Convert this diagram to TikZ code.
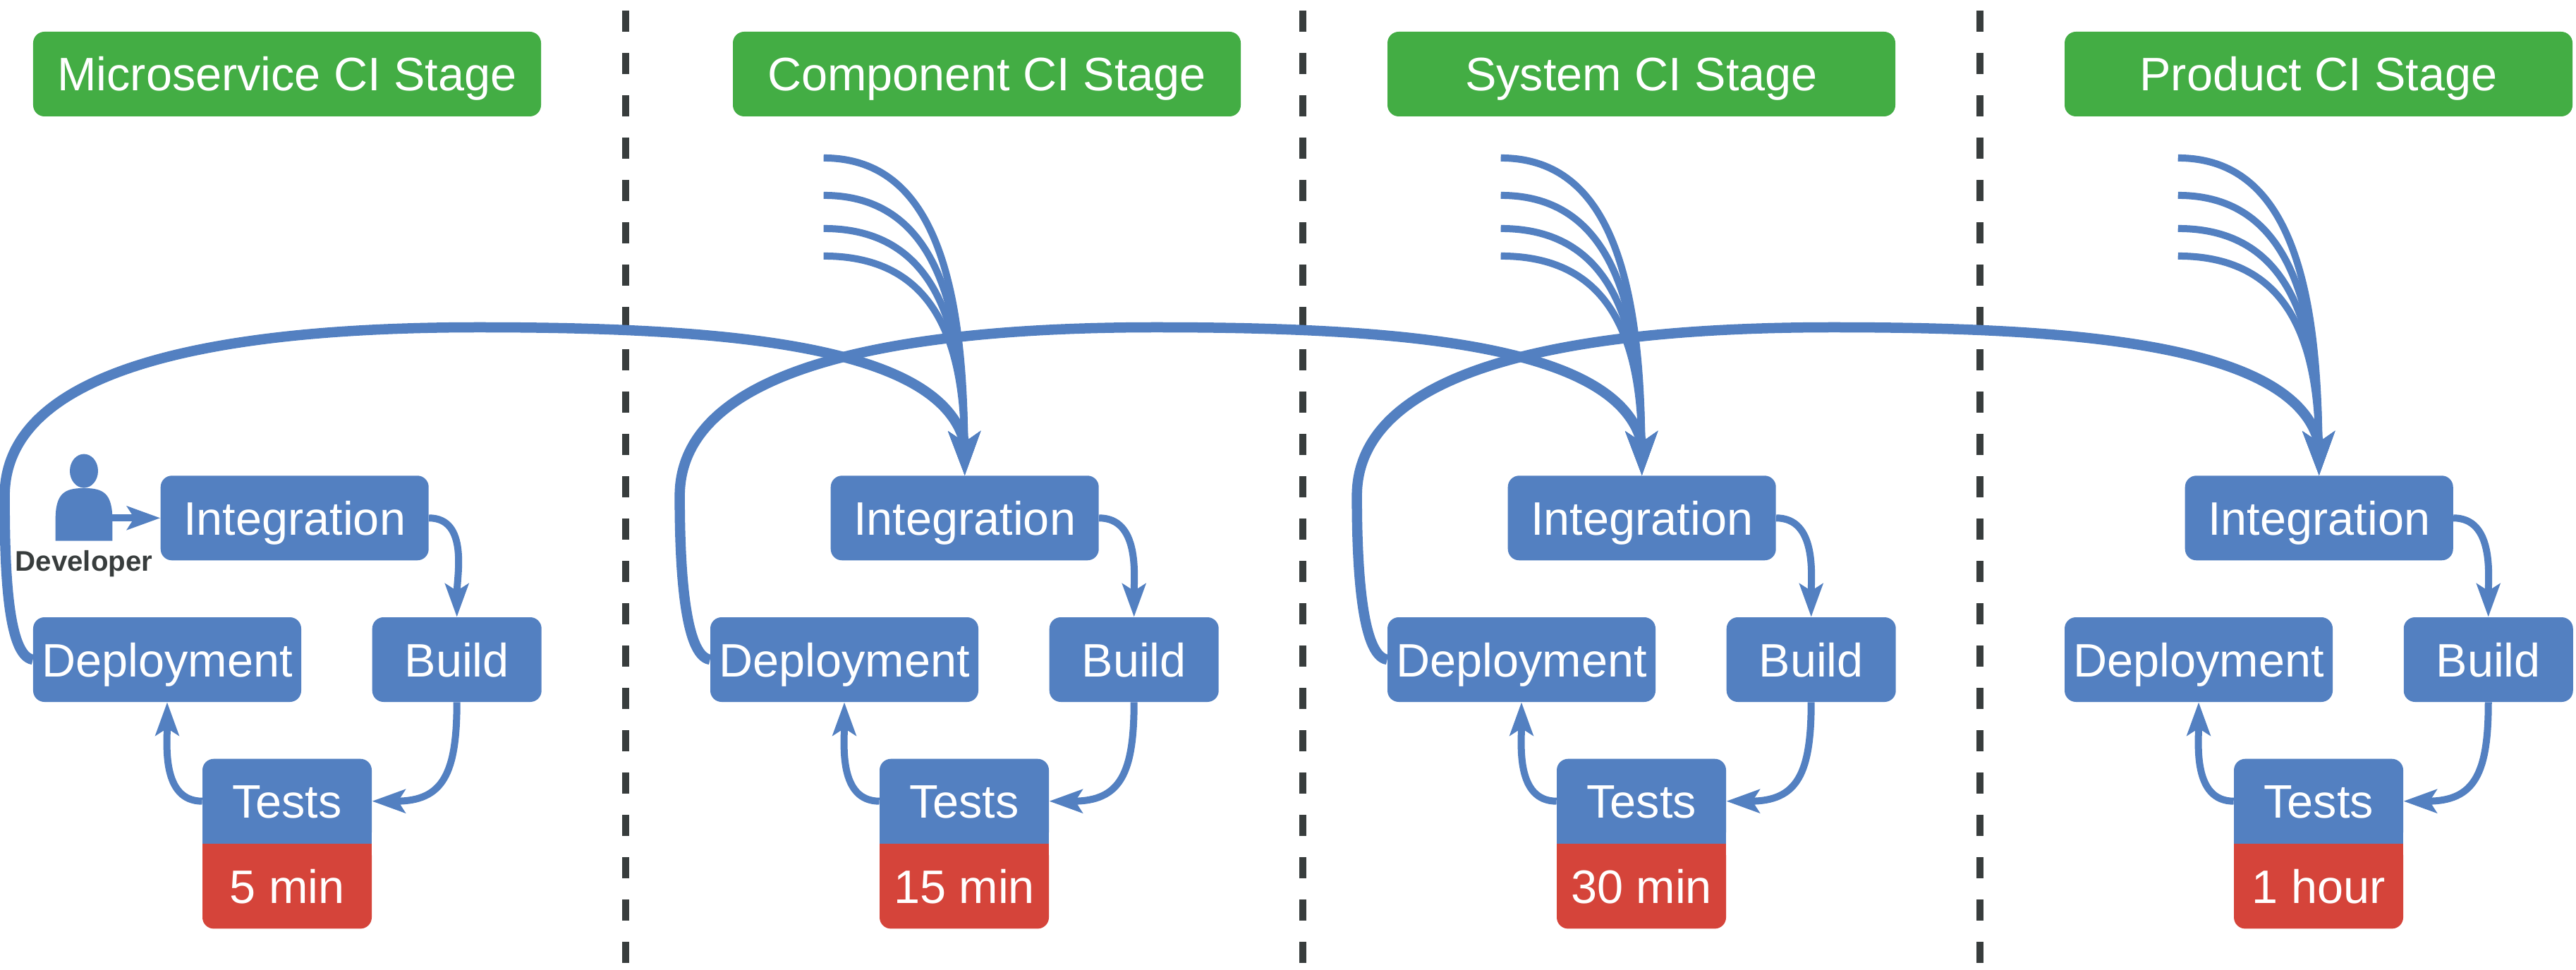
\documentclass[tikz,border=0pt]{standalone}
\usepackage{xcolor}
\usepackage{fontspec}
\setmainfont{Liberation Sans}
\definecolor{cMain}{HTML}{5380C1}
\definecolor{cStage}{HTML}{43AD44}
\definecolor{cTime}{HTML}{D5443A}
\definecolor{cGray}{HTML}{383D3D}
\usetikzlibrary{positioning,arrows.meta,shapes.geometric}
\tikzset{
  node-box/.style={fill=cMain,text=white,rounded corners=3.2mm,inner sep=0pt,
    minimum height=24mm,minimum width=76mm,text height=9.6mm,text depth=0pt,
    font=\fontsize{37.9}{44}\selectfont},
  node-build/.style={node-box,minimum width=48mm},
  node-tests/.style={node-box,minimum width=48mm},
  node-time/.style={node-tests,fill=cTime},
  node-stage/.style={node-box,fill=cStage,minimum width=144mm},
  node-person/.style={inner sep=0pt,minimum width=16mm,minimum height=14.8mm},
  node-head/.style={ellipse,fill=cMain,inner sep=0pt,minimum width=8mm,minimum height=9.6mm},
  node-dev/.style={inner sep=0pt,text=cGray,font=\bfseries\fontsize{22.9}{26}\selectfont},
  arrow/.style={-{Stealth[length=9.4mm,width=6.6mm,inset=2mm]},line width=2mm,draw=cMain},
  arrow-fan/.style={-{Stealth[length=12.4mm,width=9mm,inset=3mm]},line width=2mm,draw=cMain},
  arrow-arc/.style={line width=2.9mm,draw=cMain},
  separator/.style={line width=2mm,draw=cGray,dash pattern=on 6mm off 6mm},
}
\begin{document}
\begin{tikzpicture}[x=1mm,y=1mm,node distance=16mm and 20mm]
  \useasboundingbox (0,0) rectangle (730.4,274.8);
  % stage borders
  \coordinate (sep1a) at (177.4,271.8);
  \coordinate (sep1b) at (177.4,1.8);
  \coordinate (sep2a) at (369.4,271.8);
  \coordinate (sep2b) at (369.4,1.8);
  \coordinate (sep3a) at (561.4,271.8);
  \coordinate (sep3b) at (561.4,1.8);
  \draw[separator] (sep1a) -- (sep1b);
  \draw[separator] (sep2a) -- (sep2b);
  \draw[separator] (sep3a) -- (sep3b);

  \node[node-stage] (stage1) at (81.4,253.8) {Microservice CI Stage};
  \node[node-stage] (stage2) at (279.8,253.8) {Component CI Stage};
  \node[node-stage] (stage3) at (465.4,253.8) {System CI Stage};
  \node[node-stage] (stage4) at (657.4,253.8) {Product CI Stage};

  \node[node-box] (deploy1) at (47.4,87.8) {Deployment};
  \node[node-box] (deploy2) at (239.4,87.8) {Deployment};
  \node[node-box] (deploy3) at (431.4,87.8) {Deployment};
  \node[node-box] (deploy4) at (623.4,87.8) {Deployment};
  \node[node-build,right=of deploy1] (build1) {Build};
  \node[node-build,right=of deploy2] (build2) {Build};
  \node[node-build,right=of deploy3] (build3) {Build};
  \node[node-build,right=of deploy4] (build4) {Build};
  \node[node-box,above=of deploy1.north east,anchor=south west,xshift=-40mm] (integ1) {Integration};
  \node[node-box,above=of deploy2.north east,anchor=south west,xshift=-42mm] (integ2) {Integration};
  \node[node-box,above=of deploy3.north east,anchor=south west,xshift=-42mm] (integ3) {Integration};
  \node[node-box,above=of deploy4.north east,anchor=south west,xshift=-42mm] (integ4) {Integration};
  \node[node-tests,below=of build1.south west,anchor=north east] (tests1) {Tests};
  \node[node-tests,below=of build2.south west,anchor=north east] (tests2) {Tests};
  \node[node-tests,below=of build3.south west,anchor=north east] (tests3) {Tests};
  \node[node-tests,below=of build4.south west,anchor=north east] (tests4) {Tests};
  \node[node-time,below=0mm of tests1] (time1) {5 min};
  \node[node-time,below=0mm of tests2] (time2) {15 min};
  \node[node-time,below=0mm of tests3] (time3) {30 min};
  \node[node-time,below=0mm of tests4] (time4) {1 hour};
  % square off the joint between tests and time
  \fill[cMain] ([yshift=4mm]tests1.south west) rectangle (tests1.south east);
  \fill[cMain] ([yshift=4mm]tests2.south west) rectangle (tests2.south east);
  \fill[cMain] ([yshift=4mm]tests3.south west) rectangle (tests3.south east);
  \fill[cMain] ([yshift=4mm]tests4.south west) rectangle (tests4.south east);
  \fill[cTime] (time1.north west) rectangle ([yshift=-4mm]time1.north east);
  \fill[cTime] (time2.north west) rectangle ([yshift=-4mm]time2.north east);
  \fill[cTime] (time3.north west) rectangle ([yshift=-4mm]time3.north east);
  \fill[cTime] (time4.north west) rectangle ([yshift=-4mm]time4.north east);

  % developer
  \node[node-person,left=13.6mm of integ1,yshift=1mm] (devbody) {};
  \node[node-head,above=0mm of devbody] (devhead) {};
  \node[node-dev,below=2.6mm of devbody] (dev) {Developer};
  \fill[cMain] (devbody.south west) -- ([yshift=6mm]devbody.south west)
    .. controls +(0,7.5) and +(-5.5,0) .. (devbody.north)
    .. controls +(5.5,0) and +(0,7.5) .. ([yshift=6mm]devbody.south east)
    -- (devbody.south east) -- cycle;
  \draw[arrow] (devbody.east |- integ1.west) -- (integ1.west);

  \draw[arrow] (integ1.east) to[out=0,in=90] (build1.north);
  \draw[arrow] (integ2.east) to[out=0,in=90] (build2.north);
  \draw[arrow] (integ3.east) to[out=0,in=90] (build3.north);
  \draw[arrow] (integ4.east) to[out=0,in=90] (build4.north);
  \draw[arrow] (build1.south) to[out=-90,in=0,looseness=1.4] (tests1.east);
  \draw[arrow] (build2.south) to[out=-90,in=0,looseness=1.4] (tests2.east);
  \draw[arrow] (build3.south) to[out=-90,in=0,looseness=1.4] (tests3.east);
  \draw[arrow] (build4.south) to[out=-90,in=0,looseness=1.4] (tests4.east);
  \draw[arrow] (tests1.west) to[out=180,in=-90] (deploy1.south);
  \draw[arrow] (tests2.west) to[out=180,in=-90] (deploy2.south);
  \draw[arrow] (tests3.west) to[out=180,in=-90] (deploy3.south);
  \draw[arrow] (tests4.west) to[out=180,in=-90] (deploy4.south);

  % promotion to the next stage
  \coordinate[above left=46.4mm and 8mm of deploy1.west] (side1);
  \coordinate[above left=46.4mm and 8.6mm of deploy2.west] (side2);
  \coordinate[above left=46.4mm and 8.6mm of deploy3.west] (side3);
  \coordinate[above right=94.2mm and 126.4mm of deploy1.west] (top1);
  \coordinate[above right=94.2mm and 126.4mm of deploy2.west] (top2);
  \coordinate[above right=94.2mm and 126.4mm of deploy3.west] (top3);
  \draw[arrow-arc] (deploy1.west) .. controls +(-7.4,1) and +(0,-19.4) .. (side1)
    .. controls +(0,32.6) and +(-85.8,0) .. (top1)
    .. controls +(70.2,0) and +(-6.8,28) .. ([yshift=9mm]integ2.north);
  \draw[arrow-arc] (deploy2.west) .. controls +(-7.4,1) and +(0,-19.4) .. (side2)
    .. controls +(0,32.6) and +(-85.8,0) .. (top2)
    .. controls +(70.2,0) and +(-6.8,28) .. ([yshift=9mm]integ3.north);
  \draw[arrow-arc] (deploy3.west) .. controls +(-7.4,1) and +(0,-19.4) .. (side3)
    .. controls +(0,32.6) and +(-85.8,0) .. (top3)
    .. controls +(70.2,0) and +(-6.8,28) .. ([yshift=9mm]integ4.north);

  % incoming lines
  \coordinate[above left=90mm and 40mm of integ2.north] (fan2a);
  \coordinate[above left=79.4mm and 40mm of integ2.north] (fan2b);
  \coordinate[above left=70mm and 40mm of integ2.north] (fan2c);
  \coordinate[above left=62.2mm and 40mm of integ2.north] (fan2d);
  \coordinate[above left=90mm and 40mm of integ3.north] (fan3a);
  \coordinate[above left=79.4mm and 40mm of integ3.north] (fan3b);
  \coordinate[above left=70mm and 40mm of integ3.north] (fan3c);
  \coordinate[above left=62.2mm and 40mm of integ3.north] (fan3d);
  \coordinate[above left=90mm and 40mm of integ4.north] (fan4a);
  \coordinate[above left=79.4mm and 40mm of integ4.north] (fan4b);
  \coordinate[above left=70mm and 40mm of integ4.north] (fan4c);
  \coordinate[above left=62.2mm and 40mm of integ4.north] (fan4d);
  \draw[arrow-fan] (fan2a) .. controls +(29,0) and +(-.4,60) .. (integ2.north);
  \draw[arrow-fan] (fan2b) .. controls +(29,0) and +(-.4,53.2) .. (integ2.north);
  \draw[arrow-fan] (fan2c) .. controls +(29,0) and +(-.4,47) .. (integ2.north);
  \draw[arrow-fan] (fan2d) .. controls +(29,0) and +(-.4,41.8) .. (integ2.north);
  \draw[arrow-fan] (fan3a) .. controls +(29,0) and +(-.4,60) .. (integ3.north);
  \draw[arrow-fan] (fan3b) .. controls +(29,0) and +(-.4,53.2) .. (integ3.north);
  \draw[arrow-fan] (fan3c) .. controls +(29,0) and +(-.4,47) .. (integ3.north);
  \draw[arrow-fan] (fan3d) .. controls +(29,0) and +(-.4,41.8) .. (integ3.north);
  \draw[arrow-fan] (fan4a) .. controls +(29,0) and +(-.4,60) .. (integ4.north);
  \draw[arrow-fan] (fan4b) .. controls +(29,0) and +(-.4,53.2) .. (integ4.north);
  \draw[arrow-fan] (fan4c) .. controls +(29,0) and +(-.4,47) .. (integ4.north);
  \draw[arrow-fan] (fan4d) .. controls +(29,0) and +(-.4,41.8) .. (integ4.north);
\end{tikzpicture}
\end{document}
